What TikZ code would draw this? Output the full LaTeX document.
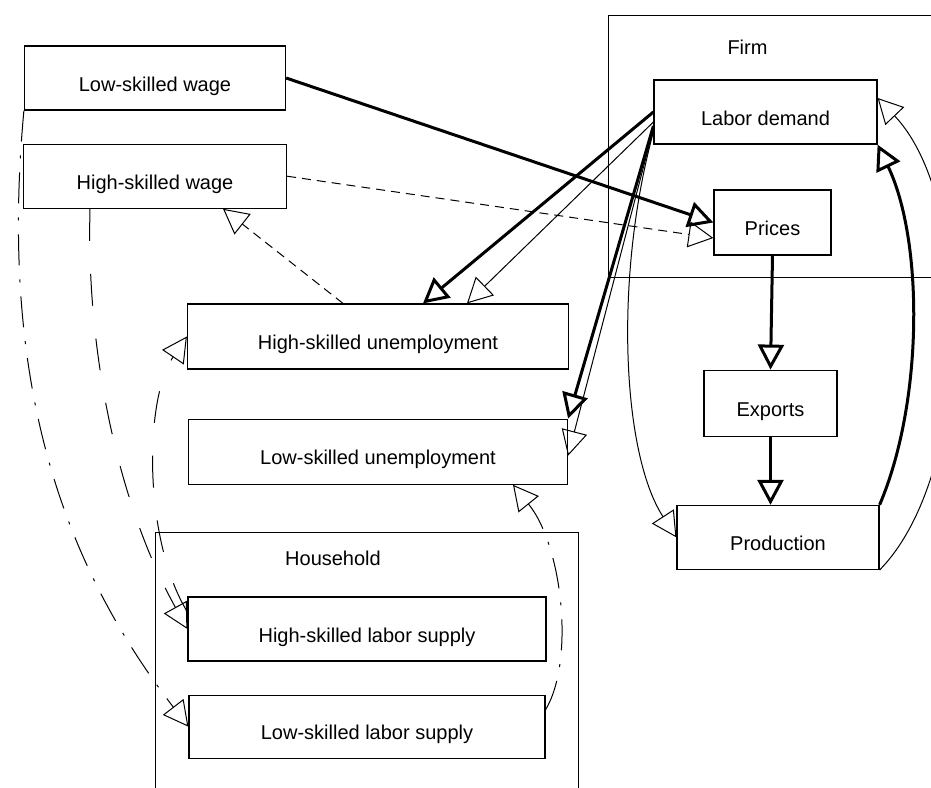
\documentclass[tikz,border=0pt]{standalone}
\usepackage{fontspec}
\setmainfont{Liberation Sans}
\usepackage{tikz}
\usetikzlibrary{arrows.meta}
\usetikzlibrary{positioning}
\usetikzlibrary{calc}
\tikzstyle{varbox} = [draw, rectangle, line width = 1.2pt, minimum height = 64pt, inner sep = 0pt, text height = 26pt, text depth = 0pt]
\tikzstyle{sector} = [draw, rectangle, line width = 1.2pt, anchor = north west, inner sep = 0pt]
\tikzstyle{title} = [inner sep = 0pt, text height = 14pt, text depth = 0pt]
\tikzstyle{link} = [line width = 1pt, -{Triangle[open, length = 25pt, width = 26pt]}]
\tikzstyle{strong} = [link, line width = 3pt]
\tikzstyle{finedash} = [dash pattern = on 9pt off 6pt]
\tikzstyle{longdash} = [dash pattern = on 32pt off 33pt]
\tikzstyle{chaindash} = [dash pattern = on 31pt off 14pt on 3pt off 14pt]

\begin{document}
\begin{tikzpicture}[x = 1pt, y = -1pt, font = \fontsize{20pt}{24pt}\selectfont]
	\useasboundingbox (0,0) rectangle (931,787);
	\clip (0,0) rectangle (931,787);
	
	% Sectors
	\node[sector, minimum width = 360pt, minimum height = 262pt] (firm) at (608,15) {};
	\node[title] (firmname) at (747.5,47) {Firm};
	\node[sector, minimum width = 423pt, minimum height = 300pt] (household) at (155,532) {};
	\node[title] (householdname) at (333,558) {Household};
	
	% Wages
	\node[varbox, minimum width = 261pt] (lswage) at (155,78) {Low-skilled wage};
	\node[varbox, minimum width = 263pt, below = 33pt of lswage] (hswage) {High-skilled wage};
	
	% Unemployment
	\node[varbox, minimum width = 381pt, minimum height = 65pt] (hsunemp) at (378,336.5) {High-skilled unemployment};
	\node[varbox, minimum width = 379pt, minimum height = 65pt, below = 49pt of hsunemp] (lsunemp) {Low-skilled unemployment};
	
	% Labor supply
	\node[varbox, minimum width = 358pt] (hssupply) at (367,629) {High-skilled labor supply};
	\node[varbox, minimum width = 356pt, minimum height = 63pt, below = 33pt of hssupply] (lssupply) {Low-skilled labor supply};
	
	% Firm side
	\node[varbox, minimum width = 223pt] (demand) at (765.5,112) {Labor demand};
	\node[varbox, minimum width = 117pt, minimum height = 65pt] (prices) at (772.5,222.5) {Prices};
	\node[varbox, minimum width = 133pt, minimum height = 66pt, below = 114pt of prices, xshift = -2pt] (exports) {Exports};
	\node[varbox, minimum width = 202pt, below = 68pt of exports, xshift = 7.5pt] (production) {Production};
	
	% Wage effects
	\draw[strong] (lswage.east) -- (prices.west);
	\draw[link, finedash] (hswage.east) -- ([yshift = -15.5pt]prices.west);
	\draw[link, finedash] ([xshift = -35pt]hsunemp.north) -- ([xshift = 68pt]hswage.south);
	
	% Labor demand
	\draw[strong] (demand.west) -- ([xshift = 45pt]hsunemp.north);
	\draw[link] ([yshift = -10pt]demand.west) -- ([xshift = 89pt]hsunemp.north);
	\draw[strong] ([yshift = -14pt]demand.west) -- (lsunemp.north east);
	\draw[link] ([yshift = -17pt]demand.west) -- ([yshift = -4pt]lsunemp.east);
	\draw[link] ([yshift = -20pt]demand.west) .. controls +(-39,143) and +(-55,-85) .. (production.west);
	
	% Production chain
	\draw[strong] (prices.south) -- (exports.north);
	\draw[strong] (exports.south) -- (exports.south |- production.north);
	\draw[strong] (production.north east) .. controls +(44,-103) and +(46,96) .. (demand.south east);
	\draw[link] (production.south east) .. controls +(95,-97) and +(97,102) .. ([yshift = 14pt]demand.east);
	
	% Household
	\draw[link, chaindash] (lswage.south west) .. controls +(-25,270) and +(-127,-165) .. (lssupply.west);
	\draw[link, longdash] ([xshift = -65pt]hswage.south) .. controls +(-4,152) and +(-66,-119) .. (hssupply.west);
	\draw[link, longdash] ([yshift = 17pt]hssupply.west) .. controls +(-44,-72) and +(-43,63.5) .. (hsunemp.west);
	\draw[link, chaindash] ([yshift = 17pt]lssupply.east) .. controls +(29,-48.5) and +(50,62) .. ([xshift = 135pt]lsunemp.south);
	
\end{tikzpicture}
\end{document}
